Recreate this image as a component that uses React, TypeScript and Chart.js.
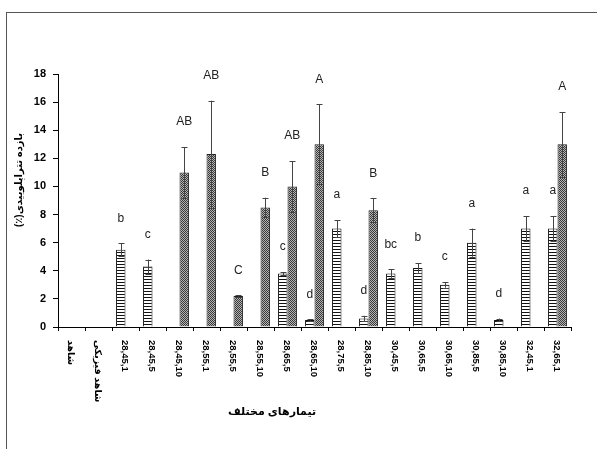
import React, { useEffect, useRef } from 'react';
import { Chart, registerables } from 'chart.js';

Chart.register(...registerables);

const FONT = "'Liberation Sans', Arial, 'DejaVu Sans', sans-serif";

const categories = [
  'شاهد', 'شاهد فیزیکی', '28,45,1', '28,45,5', '28,45,10', '28,55,1', '28,55,5', '28,55,10',
  '28,65,5', '28,65,10', '28,75,5', '28,85,10', '30,45,5', '30,65,5', '30,65,10', '30,85,5',
  '30,85,10', '32,45,1', '32,65,1',
];

const hatchedValues = [null, null, 5.5, 4.3, null, null, null, null, 3.8, 0.5, 7.0, 0.6, 3.8, 4.2, 3.0, 6.0, 0.5, 7.0, 7.0];
const hatchedErrors = [null, null, 0.45, 0.5, null, null, null, null, 0.1, 0.05, 0.6, 0.2, 0.3, 0.35, 0.2, 1.0, 0.1, 0.9, 0.9];
const hatchedLetters = ['', '', 'b', 'c', '', '', '', '', 'c', 'd', 'a', 'd', 'bc', 'b', 'c', 'a', 'd', 'a', 'a'];

const dottedValues = [null, null, null, null, 11.0, 12.3, 2.2, 8.5, 10.0, 13.0, null, 8.3, null, null, null, null, null, null, 13.0];
const dottedErrors = [null, null, null, null, 1.8, 3.8, 0.05, 0.7, 1.8, 2.85, null, 0.85, null, null, null, null, null, null, 2.3];
const dottedLetters = ['', '', '', '', 'AB', 'AB', 'C', 'B', 'AB', 'A', '', 'B', '', '', '', '', '', '', 'A'];

const yTicksMax = 18;
const yTicksStep = 2;

const yTitle = 'بازده تتراپلوییدی(٪)';
const xTitle = 'تیمارهای مختلف';

function makeHatch(): CanvasPattern | string {
  const c = document.createElement('canvas');
  c.width = 4;
  c.height = 3;
  const x = c.getContext('2d');
  if (!x) return '#fff';
  x.fillStyle = '#ffffff';
  x.fillRect(0, 0, 4, 3);
  x.fillStyle = '#111111';
  x.fillRect(0, 0, 4, 1);
  return x.createPattern(c, 'repeat') || '#fff';
}

function makeDots(): CanvasPattern | string {
  const c = document.createElement('canvas');
  c.width = 2;
  c.height = 2;
  const x = c.getContext('2d');
  if (!x) return '#666';
  x.fillStyle = '#b4b4b4';
  x.fillRect(0, 0, 2, 2);
  x.fillStyle = '#383838';
  x.fillRect(0, 0, 1, 1);
  x.fillRect(1, 1, 1, 1);
  return x.createPattern(c, 'repeat') || '#666';
}

const errors = [hatchedErrors, dottedErrors];
const letters = [hatchedLetters, dottedLetters];

const decorPlugin = {
  id: 'decor',
  beforeDraw(chart: any) {
    const ctx = chart.ctx;
    ctx.save();
    ctx.fillStyle = '#ffffff';
    ctx.fillRect(0, 0, chart.width, chart.height);
    ctx.strokeStyle = '#555';
    ctx.lineWidth = 1;
    ctx.strokeRect(6.5, 12.5, chart.width + 20, chart.height + 20);
    ctx.restore();
  },
  afterDatasetsDraw(chart: any) {
    const ctx = chart.ctx;
    const yScale = chart.scales.y;
    ctx.save();
    chart.data.datasets.forEach((ds: any, d: number) => {
      const meta = chart.getDatasetMeta(d);
      ds.data.forEach((v: number | null, i: number) => {
        if (v === null || v === undefined) return;
        const err = errors[d][i] || 0;
        const el = meta.data[i];
        const x = Math.round(el.x) + 0.5;
        const yHi = yScale.getPixelForValue(v + err);
        const yLo = yScale.getPixelForValue(Math.max(0, v - err));
        ctx.strokeStyle = '#444';
        ctx.lineWidth = 1;
        ctx.beginPath();
        ctx.moveTo(x, yLo);
        ctx.lineTo(x, yHi);
        ctx.moveTo(x - 3, Math.round(yHi) + 0.5);
        ctx.lineTo(x + 3, Math.round(yHi) + 0.5);
        ctx.moveTo(x - 3, Math.round(yLo) + 0.5);
        ctx.lineTo(x + 3, Math.round(yLo) + 0.5);
        ctx.stroke();
        const letter = letters[d][i];
        if (letter) {
          ctx.fillStyle = '#222';
          ctx.font = `12px ${FONT}`;
          ctx.textAlign = 'center';
          ctx.textBaseline = 'middle';
          ctx.fillText(letter, el.x, yHi - 25);
        }
      });
    });
    ctx.restore();
  },
  afterDraw(chart: any) {
    const ctx = chart.ctx;
    const xScale = chart.scales.x;
    const area = chart.chartArea;
    ctx.save();
    ctx.fillStyle = '#000';
    ctx.font = `bold 9.5px ${FONT}`;
    ctx.textAlign = 'left';
    ctx.textBaseline = 'middle';
    categories.forEach((c, i) => {
      const x = xScale.getPixelForValue(i);
      ctx.save();
      ctx.translate(x - 1, area.bottom + 13);
      ctx.rotate(Math.PI / 2);
      ctx.fillText(c, 0, 0);
      ctx.restore();
    });
    // x title
    ctx.font = `bold 11px ${FONT}`;
    ctx.textAlign = 'center';
    ctx.direction = 'rtl';
    ctx.fillText(xTitle, 272, 412);
    // y title
    ctx.save();
    ctx.translate(19, 180);
    ctx.rotate(-Math.PI / 2);
    ctx.font = `bold 10px ${FONT}`;
    ctx.direction = 'rtl';
    ctx.textAlign = 'center';
    ctx.fillText(yTitle, 0, 0);
    ctx.restore();
    ctx.restore();
  },
};

export default function App() {
  const ref = useRef<HTMLCanvasElement>(null);
  useEffect(() => {
    document.body.style.margin = '0';
    if (!ref.current) return;
    const chart = new Chart(ref.current, {
      type: 'bar',
      data: {
        labels: categories,
        datasets: [
          {
            label: 'hatched',
            data: hatchedValues as any,
            backgroundColor: makeHatch() as any,
            borderColor: '#111',
            borderWidth: 1,
            categoryPercentage: 0.7,
            barPercentage: 1,
          },
          {
            label: 'dotted',
            data: dottedValues as any,
            backgroundColor: makeDots() as any,
            borderColor: '#222',
            borderWidth: 1,
            categoryPercentage: 0.7,
            barPercentage: 1,
          },
        ],
      },
      options: {
        responsive: false,
        animation: false,
        layout: { padding: { left: 0, right: 26, top: 74, bottom: 0 } },
        plugins: { legend: { display: false }, tooltip: { enabled: false } },
        scales: {
          x: {
            grid: { display: true, drawOnChartArea: false, drawTicks: true, tickLength: 4, color: '#000', offset: true },
            border: { display: true, color: '#000', width: 1 },
            ticks: { display: false },
            afterFit: (s: any) => { s.height = 122; },
          },
          y: {
            min: 0,
            max: yTicksMax,
            ticks: { stepSize: yTicksStep, color: '#000', font: { family: FONT, size: 11, weight: 'bold' }, padding: 7 },
            grid: { drawOnChartArea: false, drawTicks: true, tickLength: 5, color: '#000' },
            border: { display: true, color: '#000', width: 1 },
            afterFit: (s: any) => { s.width = 58; },
          },
        },
      },
      plugins: [decorPlugin],
    });
    return () => chart.destroy();
  }, []);
  return (
    <div style={{ width: 597, height: 449, position: 'relative' }}>
      <canvas ref={ref} width={597} height={449} style={{ display: 'block' }} />
    </div>
  );
}
